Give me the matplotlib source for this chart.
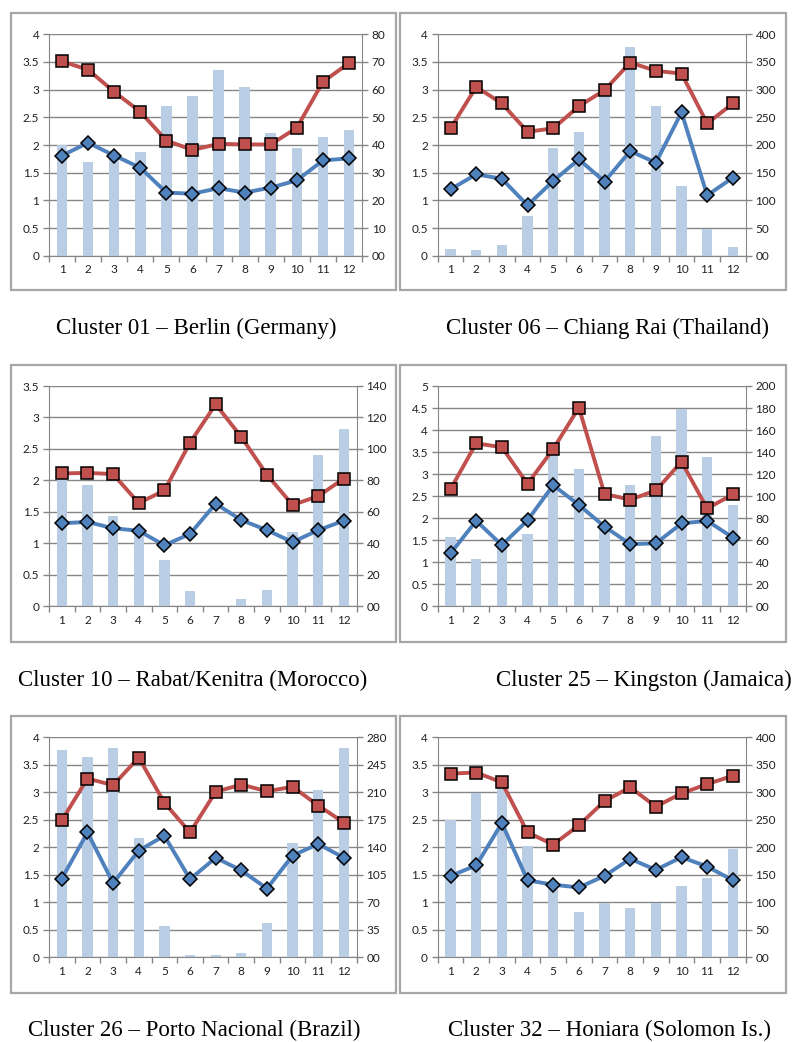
import matplotlib.pyplot as plt
from matplotlib.patches import Rectangle
from matplotlib.ticker import FixedLocator, NullFormatter
import numpy as np

months = list(range(1, 13))

# ---- data ----
berlin_bars = [40, 34, 36, 37.6, 54, 57.8, 67, 61, 44.5, 39, 42.9, 45.4]
berlin_red = [3.51, 3.36, 2.96, 2.60, 2.08, 1.91, 2.02, 2.01, 2.01, 2.31, 3.14, 3.48]
berlin_blue = [1.81, 2.04, 1.81, 1.59, 1.14, 1.12, 1.22, 1.14, 1.23, 1.36, 1.72, 1.76]

chiang_bars = [12, 10, 20, 72, 195, 223, 290, 377, 270, 126, 49, 16]
chiang_red = [2.30, 3.05, 2.75, 2.24, 2.30, 2.70, 2.99, 3.49, 3.34, 3.29, 2.39, 2.75]
chiang_blue = [1.20, 1.47, 1.39, 0.91, 1.35, 1.74, 1.34, 1.89, 1.68, 2.59, 1.09, 1.41]

rabat_bars = [83, 76.9, 57.6, 47, 29.2, 9.5, 0, 4.4, 10.4, 47.2, 96.2, 112.5]
rabat_red = [2.11, 2.12, 2.10, 1.64, 1.84, 2.60, 3.21, 2.69, 2.09, 1.61, 1.75, 2.03]
rabat_blue = [1.32, 1.34, 1.24, 1.20, 0.97, 1.15, 1.63, 1.37, 1.21, 1.02, 1.21, 1.36]

kingston_bars = [62.9, 43, 56, 65.7, 141, 124.7, 72, 110, 154.6, 178.8, 135.5, 91.7]
kingston_red = [2.66, 3.70, 3.61, 2.78, 3.57, 4.51, 2.55, 2.42, 2.63, 3.28, 2.22, 2.54]
kingston_blue = [1.20, 1.94, 1.39, 1.95, 2.75, 2.30, 1.81, 1.41, 1.43, 1.88, 1.94, 1.56]

porto_bars = [263.9, 254.6, 266.4, 151.9, 40.3, 2.5, 3, 5, 43.3, 145.5, 213, 266.4]
porto_red = [2.49, 3.25, 3.13, 3.63, 2.81, 2.27, 3.01, 3.14, 3.02, 3.10, 2.76, 2.45]
porto_blue = [1.43, 2.27, 1.35, 1.94, 2.21, 1.42, 1.81, 1.58, 1.25, 1.85, 2.06, 1.81]

honiara_bars = [249, 298, 310, 202, 128, 82, 99, 90, 99, 129, 144, 197]
honiara_red = [3.34, 3.36, 3.18, 2.27, 2.05, 2.40, 2.84, 3.09, 2.74, 2.98, 3.15, 3.30]
honiara_blue = [1.48, 1.67, 2.44, 1.40, 1.32, 1.27, 1.48, 1.79, 1.59, 1.82, 1.65, 1.40]

captions = [
    "Cluster 01 \u2013 Berlin (Germany)",
    "Cluster 06 \u2013 Chiang Rai (Thailand)",
    "Cluster 10 \u2013 Rabat/Kenitra (Morocco)",
    "Cluster 25 \u2013 Kingston (Jamaica)",
    "Cluster 26 \u2013 Porto Nacional (Brazil)",
    "Cluster 32 \u2013 Honiara (Solomon Is.)",
]

# (left max, right max, right step)
scales = [(4, 80, 10), (4, 400, 50), (3.5, 140, 20),
          (5, 200, 20), (4, 280, 35), (4, 400, 50)]

panels = [
    (berlin_bars, berlin_red, berlin_blue),
    (chiang_bars, chiang_red, chiang_blue),
    (rabat_bars, rabat_red, rabat_blue),
    (kingston_bars, kingston_red, kingston_blue),
    (porto_bars, porto_red, porto_blue),
    (honiara_bars, honiara_red, honiara_blue),
]

W, H = 797, 1042
fig = plt.figure(figsize=(W / 100, H / 100), dpi=100)

# pixel layout: plot area (l, r, t, b), frame box (l, r, t, b), caption (x, y)
plot_px = [
    (49, 362, 34.3, 255.7), (437.7, 745.7, 34.3, 255.7),
    (49, 356.7, 386, 606.3), (437.7, 745.7, 386, 606.3),
    (49, 356.7, 737.3, 957.3), (437.7, 745.7, 737.3, 957.3),
]
box_px = [
    (11, 396, 13, 290), (400, 786, 13, 290),
    (11, 396, 365, 642), (400, 786, 365, 642),
    (11, 396, 716, 993), (400, 786, 716, 993),
]
cap_px = [(196, 328), (608, 328), (193, 680), (644, 680), (194, 1030), (610, 1030)]

grid_col = "#868686"
bar_col = "#B9CDE5"
red_col = "#C0504D"
blue_col = "#4F81BD"
tick_font = "Lato"


def style_labels(labels):
    for lab in labels:
        lab.set_fontfamily(tick_font)
        lab.set_fontsize(8.5)
        lab.set_color("#202020")


for i in range(6):
    bars, red, blue = panels[i]
    lmax, rmax, rstep = scales[i]
    l, r, t, b = plot_px[i]

    # frame
    bl, br, bt, bb = box_px[i]
    fig.patches.append(Rectangle((bl / W, 1 - bb / H), (br - bl) / W, (bb - bt) / H,
                                 transform=fig.transFigure, fill=False,
                                 edgecolor="#A6A6A6", linewidth=1.6))

    axb = fig.add_axes([l / W, 1 - b / H, (r - l) / W, (b - t) / H])
    axl = axb.twinx()

    # bars on the right-hand axis
    axb.bar(months, bars, width=0.4, color=bar_col, zorder=2)
    axb.set_xlim(0.5, 12.5)
    axb.set_ylim(0, rmax)
    rticks = np.arange(0, rmax + rstep / 2, rstep)
    axb.yaxis.set_major_locator(FixedLocator(rticks))
    axb.set_yticklabels(["%02d" % v for v in rticks])
    axb.yaxis.tick_right()
    axb.grid(axis="y", color=grid_col, linewidth=1.0)
    axb.set_axisbelow(True)
    axb.xaxis.set_major_locator(FixedLocator(np.arange(0.5, 13, 1)))
    axb.xaxis.set_major_formatter(NullFormatter())
    axb.xaxis.set_minor_locator(FixedLocator(months))
    axb.set_xticklabels([str(m) for m in months], minor=True)
    axb.tick_params(axis="x", which="major", length=4, width=1, color=grid_col, direction="out")
    axb.tick_params(axis="x", which="minor", length=0, pad=6)
    axb.tick_params(axis="y", left=False, labelleft=False, right=True, labelright=True,
                    length=4, width=1, color=grid_col, direction="out", pad=3)
    style_labels(axb.get_xticklabels(minor=True) + axb.get_yticklabels())
    axb.spines["top"].set_visible(False)
    axb.spines["left"].set_visible(False)
    axb.spines["right"].set_color(grid_col)
    axb.spines["bottom"].set_color(grid_col)
    axb.patch.set_visible(False)

    # lines on the left-hand axis
    axl.plot(months, red, color=red_col, linewidth=2.8, marker="s", markersize=8,
             markerfacecolor=red_col, markeredgecolor="black", markeredgewidth=1.1, zorder=3)
    axl.plot(months, blue, color=blue_col, linewidth=2.8, marker="D", markersize=7,
             markerfacecolor=blue_col, markeredgecolor="black", markeredgewidth=1.1, zorder=4)
    axl.set_ylim(0, lmax)
    lticks = np.arange(0, lmax + 0.25, 0.5)
    axl.yaxis.set_major_locator(FixedLocator(lticks))
    axl.set_yticklabels(["%g" % v for v in lticks])
    axl.yaxis.tick_left()
    axl.tick_params(axis="y", left=True, labelleft=True, right=False, labelright=False,
                    length=4, width=1, color=grid_col, direction="out", pad=3)
    style_labels(axl.get_yticklabels())
    axl.spines["top"].set_visible(False)
    axl.spines["right"].set_visible(False)
    axl.spines["bottom"].set_visible(False)
    axl.spines["left"].set_color(grid_col)
    axl.set_xlim(0.5, 12.5)

    cx, cy = cap_px[i]
    fig.text(cx / W, 1 - cy / H, captions[i], ha="center", va="center",
             fontfamily="Liberation Serif", fontsize=16.5, color="black")

fig.savefig("out.png", dpi=100)
